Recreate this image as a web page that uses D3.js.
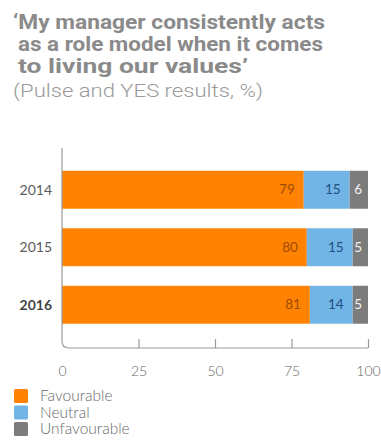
<!DOCTYPE html>
<html>
<head>
<meta charset="utf-8">
<script src="https://cdn.jsdelivr.net/npm/d3@7/dist/d3.min.js"></script>
<style>
  html, body { margin: 0; padding: 0; background: #fff; }
  svg { display: block; font-family: Lato, "Open Sans", sans-serif; }
</style>
</head>
<body>
<svg id="chart" width="381" height="444"></svg>
<script>
// Survey results by year (%)
const years = ["2014", "2015", "2016"];
const favourable = [79, 80, 81];
const neutral = [15, 15, 14];
const unfavourable = [6, 5, 5];
const seriesNames = ["Favourable", "Neutral", "Unfavourable"];
const xTicks = [0, 25, 50, 75, 100];

const colors = ["#ff8300", "#73b4e6", "#7c7c7c"];
const labelColors = ["#9c4a06", "#1e4f7d", "#f2f2f2"];
const labelInset = [9, 9, 6];

const svg = d3.select("#chart");

// Title block (line widths set so the wrapped heading fills its column)
const titleLines = [
  { t: "\u2018My manager consistently acts", x: 13, w: 312 },
  { t: "as a role model when it comes", x: 18, w: 305 },
  { t: "to living our values\u2019", x: 18, w: 230 }
];
const title = svg.append("g").attr("fill", "#8a8a8a").attr("font-weight", 700)
  .attr("font-size", 20).attr("font-family", "Roboto, sans-serif");
titleLines.forEach((l, i) => {
  title.append("text").attr("x", l.x).attr("y", 29 + i * 22)
    .attr("textLength", l.w).attr("lengthAdjust", "spacingAndGlyphs").text(l.t);
});
svg.append("text").attr("x", 13).attr("y", 97).attr("fill", "#9a9a9a")
  .attr("font-size", 18).attr("font-weight", 300).attr("font-family", "Roboto, sans-serif")
  .attr("textLength", 250).attr("lengthAdjust", "spacingAndGlyphs")
  .text("(Pulse and YES results, %)");

// Scales
const x = d3.scaleLinear().domain([0, 100]).range([62, 368]);
const y = d3.scaleBand().domain(years).range([161, 333.5]).paddingInner(0.34).paddingOuter(0.17);

// Stack the three series
const rows = years.map((yr, i) => ({ year: yr, Favourable: favourable[i], Neutral: neutral[i], Unfavourable: unfavourable[i] }));
const stacked = d3.stack().keys(seriesNames)(rows);

const layers = svg.append("g").selectAll("g").data(stacked).join("g")
  .attr("fill", (d, i) => colors[i]);
layers.selectAll("rect").data(d => d).join("rect")
  .attr("x", d => x(d[0]))
  .attr("y", d => y(d.data.year))
  .attr("width", d => x(d[1]) - x(d[0]))
  .attr("height", y.bandwidth());

// Value labels inside each segment
stacked.forEach((layer, i) => {
  svg.append("g").selectAll("text").data(layer).join("text")
    .attr("x", d => x(d[1]) - labelInset[i])
    .attr("y", d => y(d.data.year) + y.bandwidth() / 2)
    .attr("dy", "0.35em")
    .attr("text-anchor", "end")
    .attr("font-size", 13.5)
    .attr("fill", labelColors[i])
    .text(d => d[1] - d[0]);
});

// Year labels
svg.append("g").selectAll("text").data(years).join("text")
  .attr("x", 52)
  .attr("y", d => y(d) + y.bandwidth() / 2)
  .attr("dy", "0.35em")
  .attr("text-anchor", "end")
  .attr("font-size", 14)
  .attr("font-weight", d => d === "2016" ? 700 : 400)
  .attr("fill", d => d === "2016" ? "#444" : "#5a5a5a")
  .text(d => d);

// Axis frame with rounded corner
const axisY = 348, r = 7;
svg.append("path")
  .attr("d", `M${x(0)},148 V${axisY - r} Q${x(0)},${axisY} ${x(0) + r},${axisY} H${x(100)}`)
  .attr("fill", "none").attr("stroke", "#9a9a9a").attr("stroke-width", 1.2);

// Bottom axis: ticks pointing up, labels below
const xAxis = d3.axisBottom(x).tickValues(xTicks).tickSizeInner(-9).tickSizeOuter(0).tickPadding(18);
const gx = svg.append("g").attr("transform", `translate(0,${axisY})`).call(xAxis);
gx.select(".domain").remove();
gx.selectAll(".tick line").attr("stroke", "#9a9a9a").attr("stroke-width", 1.2)
  .filter(d => d === 0).remove();
gx.selectAll(".tick text").attr("font-size", 14).attr("fill", "#666")
  .attr("font-family", "Lato, sans-serif").attr("font-weight", 300);

// Legend
const legend = svg.append("g").attr("transform", "translate(14,389)");
seriesNames.forEach((name, i) => {
  const g = legend.append("g").attr("transform", `translate(0,${i * 16.5})`);
  g.append("rect").attr("width", 14).attr("height", 14).attr("rx", 1.5).attr("fill", colors[i]);
  g.append("text").attr("x", 26).attr("y", 7).attr("dy", "0.35em")
    .attr("font-size", 15.5).attr("font-weight", 300).attr("fill", "#6a6a6a").text(name);
});
</script>
</body>
</html>
